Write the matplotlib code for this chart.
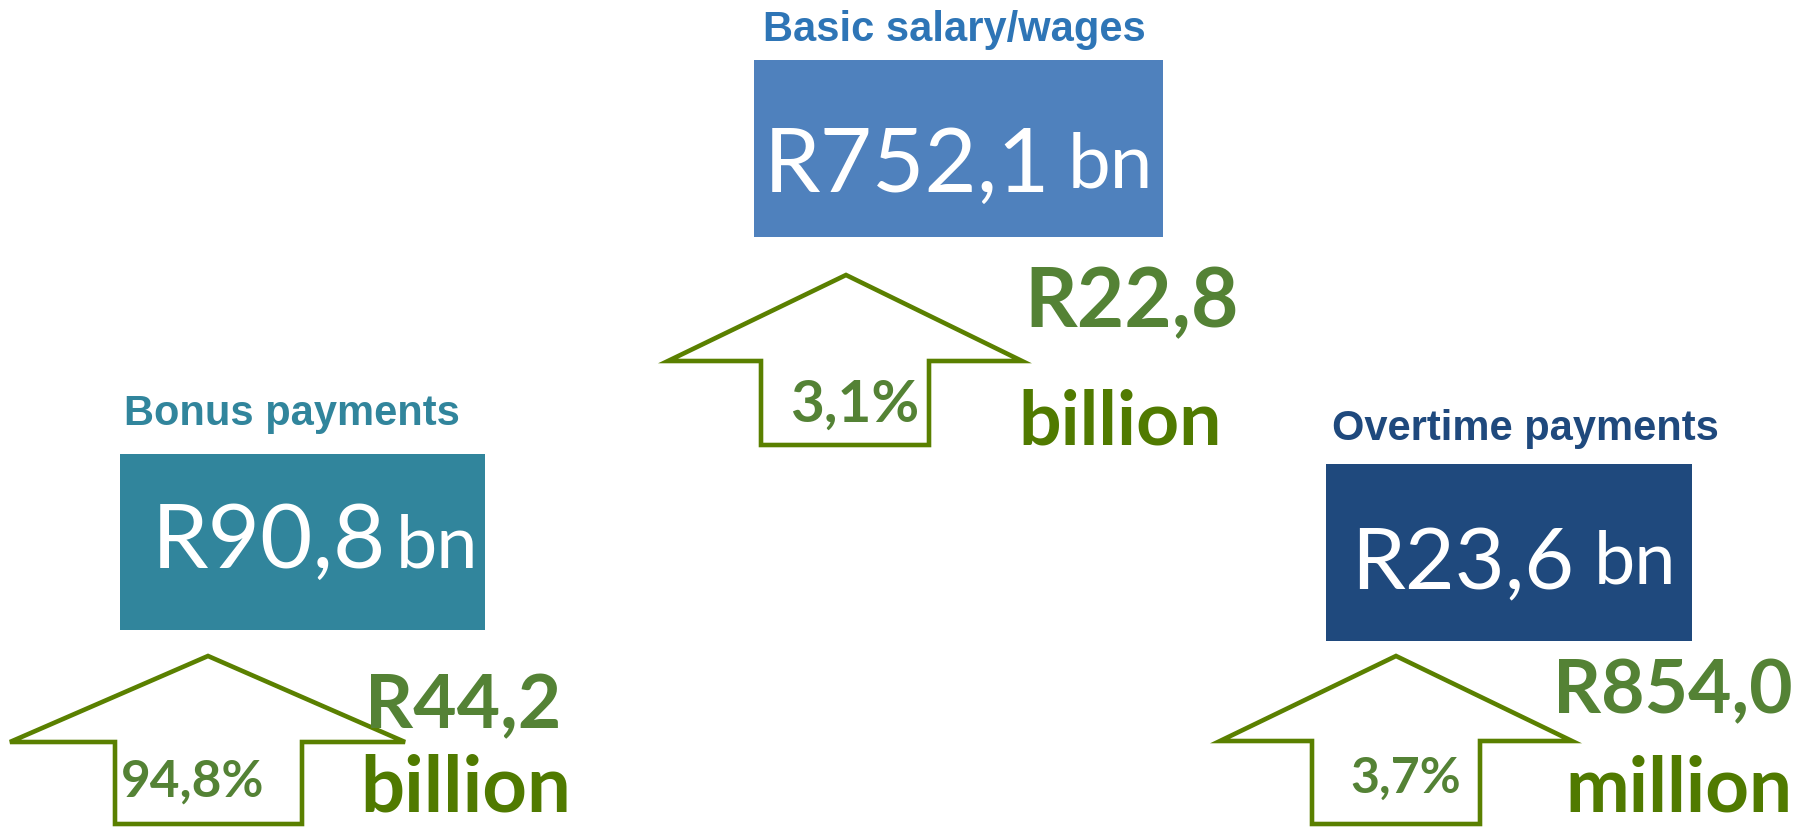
import matplotlib.pyplot as plt
from matplotlib.patches import Rectangle, Polygon

# values shown on the infographic
titles = ['Basic salary/wages', 'Bonus payments', 'Overtime payments']
amounts = ['R752,1', 'R90,8', 'R23,6']
amount_unit = 'bn'
pct_change = ['3,1%', '94,8%', '3,7%']
increase = ['R22,8', 'R44,2', 'R854,0']
increase_unit = ['billion', 'billion', 'million']

# colours
box_colors = ['#4f81bd', '#31859c', '#1f497d']
title_colors = ['#2e75b6', '#31859c', '#1f497d']
arrow_color = '#5a8000'
num_green = '#548235'
unit_green = '#507a00'

# layout in pixels (figure is 1814 x 828, y downwards)
boxes = [(754, 61, 1163, 238), (120, 455, 485, 631), (1326, 465, 1692, 642)]
title_pos = [(954, 41), (292, 425), (1525, 440)]
amount_pos = [(1050, 192, 1068, 188), (386, 568, 396, 568), (1574, 589, 1594, 584)]
amount_size = [65, 65, 62]
bn_size = [55, 53, 53]
# arrow: tip x, tip y, wing left, wing right, wing y, shaft left, shaft right, bottom
arrows = [(846, 276, 668, 1022, 362, 761, 929, 446),
          (208, 657, 10, 405, 743, 115, 302, 825),
          (1396, 657, 1220, 1572, 742, 1312, 1480, 825)]
pct_pos = [(855, 422), (193, 797), (1406, 793)]
pct_size = [42, 37, 36]
inc_pos = [(1024, 327), (365, 728), (1553, 713)]
inc_size = [59, 54, 54]
unit_pos = [(1018, 445), (360, 812), (1565, 812)]
unit_size = [54, 56, 55]

fig = plt.figure(figsize=(18.14, 8.28), dpi=100)
ax = fig.add_axes([0, 0, 1, 1])
ax.set_xlim(0, 1814)
ax.set_ylim(828, 0)
ax.axis('off')

for i in range(3):
    x0, y0, x1, y1 = boxes[i]
    ax.add_patch(Rectangle((x0, y0), x1 - x0, y1 - y0, facecolor=box_colors[i],
                           edgecolor='none', zorder=1))
    tx, ty = title_pos[i]
    ax.text(tx, ty, titles[i], ha='center', va='baseline', fontsize=30,
            fontweight='bold', family='Liberation Sans', color=title_colors[i])

    ax_r, ay, bx, by = amount_pos[i]
    ax.text(ax_r, ay, amounts[i], ha='right', va='baseline', fontsize=amount_size[i],
            family='Lato', color='white', zorder=3)
    ax.text(bx, by, amount_unit, ha='left', va='baseline', fontsize=bn_size[i],
            family='Lato', color='white', zorder=3)

    tipx, tipy, wl, wr, wy, sl, sr, bot = arrows[i]
    pts = [(tipx, tipy), (wr, wy), (sr, wy), (sr, bot), (sl, bot), (sl, wy), (wl, wy)]
    ax.add_patch(Polygon(pts, closed=True, facecolor='white', edgecolor=arrow_color,
                         linewidth=3.3, joinstyle='miter', zorder=2))

    px, py = pct_pos[i]
    ax.text(px, py, pct_change[i], ha='center', va='baseline', fontsize=pct_size[i],
            fontweight='bold', family='Lato', color=num_green, zorder=3)
    ix, iy = inc_pos[i]
    ax.text(ix, iy, increase[i], ha='left', va='baseline', fontsize=inc_size[i],
            fontweight='bold', family='Lato', color=num_green, zorder=4)
    ux, uy = unit_pos[i]
    ax.text(ux, uy, increase_unit[i], ha='left', va='baseline', fontsize=unit_size[i],
            fontweight='bold', family='Lato', color=unit_green, zorder=4)

fig.savefig('out.png', dpi=100)
